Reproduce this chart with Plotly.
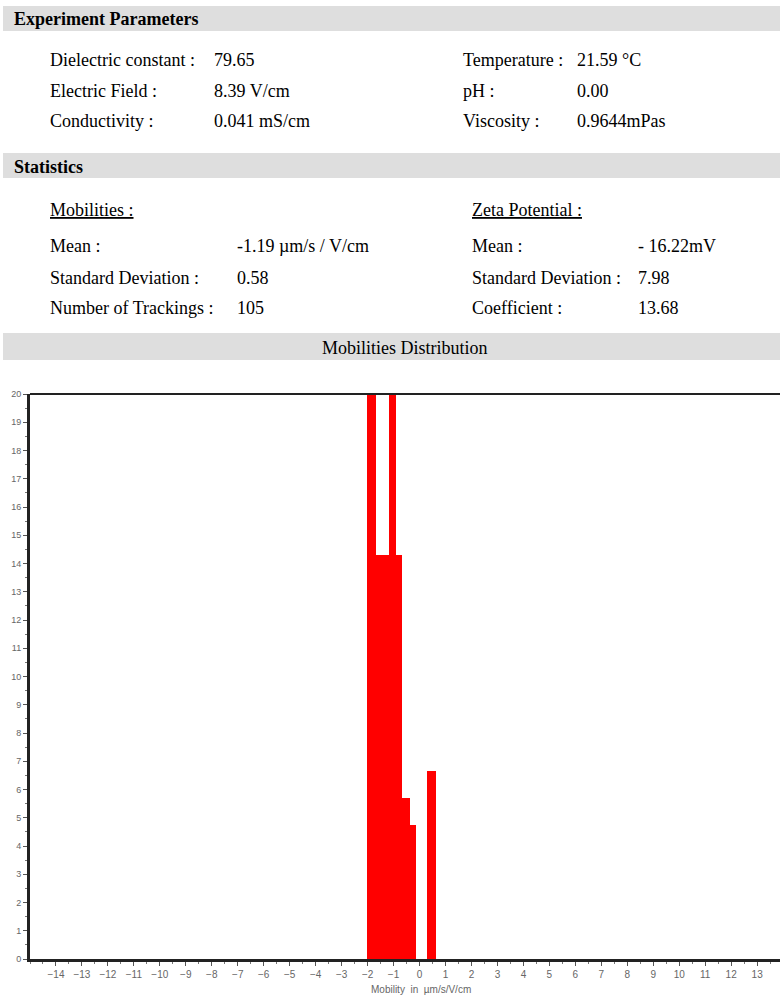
import plotly.graph_objects as go

# ---- data ----
bin_left = [-2.01, -1.67, -1.18, -0.90, -0.67, -0.38, 0.27]
bin_right = [-1.67, -1.18, -0.90, -0.67, -0.38, -0.15, 0.65]
percent = [27.62, 14.29, 26.67, 14.29, 5.71, 4.76, 6.67]
x_ticks = list(range(-14, 14))

exp_labels_left = ["Dielectric constant :", "Electric Field :", "Conductivity :"]
exp_values_left = ["79.65", "8.39 V/cm", "0.041 mS/cm"]
exp_labels_right = ["Temperature :", "pH :", "Viscosity :"]
exp_values_right = ["21.59 °C", "0.00", "0.9644mPas"]

mob_labels = ["Mean :", "Standard Deviation :", "Number of Trackings :"]
mob_values = ["-1.19 µm/s / V/cm", "0.58", "105"]
zeta_labels = ["Mean :", "Standard Deviation :", "Coefficient :"]
zeta_values = ["- 16.22mV", "7.98", "13.68"]

# ---- geometry helpers (pixel -> paper) ----
W, H = 780, 998
PL, PT, PB = 30, 394, 39
PW, PH = W - PL, H - PT - PB


def px(x):
    return (x - PL) / PW


def py(y):
    return (PT + PH - y) / PH


centers = [(a + b) / 2 for a, b in zip(bin_left, bin_right)]
widths = [b - a for a, b in zip(bin_left, bin_right)]

fig = go.Figure(go.Bar(
    x=centers, y=percent, width=widths,
    marker=dict(color="#ff0000", line=dict(width=0)),
    hoverinfo="skip",
))

SERIF = "Liberation Serif"
FS = 18
shapes = []
annotations = []

# gray section bands
for y0, y1 in [(6, 31), (153, 178), (333, 360)]:
    shapes.append(dict(type="rect", xref="paper", yref="paper",
                       x0=px(3), x1=px(780), y0=py(y1), y1=py(y0),
                       fillcolor="#dedede", line=dict(width=0), layer="below"))

# top border of the plot
shapes.append(dict(type="line", xref="paper", yref="paper", x0=0, x1=1, y0=1, y1=1,
                   line=dict(color="#222222", width=2)))


def txt(x, y, s, size=FS, anchor="left", bold=False, color="black", family=SERIF):
    annotations.append(dict(
        xref="paper", yref="paper", x=px(x), y=py(y),
        text=("<b>%s</b>" % s) if bold else s,
        showarrow=False, xanchor=anchor, yanchor="middle",
        font=dict(family=family, size=size, color=color),
    ))


txt(12, 19, "Experiment Parameters", bold=True)
rows_exp = [60, 91, 121]
for i, y in enumerate(rows_exp):
    txt(48, y, exp_labels_left[i])
    txt(212, y, exp_values_left[i])
    txt(461, y, exp_labels_right[i])
    txt(575, y, exp_values_right[i])

txt(12, 167, "Statistics", bold=True)
txt(48, 210, "<u>Mobilities :</u>")
txt(470, 210, "<u>Zeta Potential :</u>")
rows_stat = [246, 278, 308]
for i, y in enumerate(rows_stat):
    txt(48, y, mob_labels[i])
    txt(235, y, mob_values[i])
    txt(470, y, zeta_labels[i])
    txt(636, y, zeta_values[i])

txt(405, 348, "Mobilities Distribution", anchor="center")

# x-axis title
txt(421, 989, "Mobility\u00a0\u00a0in\u00a0\u00a0µm/s/V/cm", size=10, anchor="center",
    color="#666666", family="Liberation Sans")

fig.update_layout(
    width=W, height=H,
    margin=dict(l=PL, r=0, t=PT, b=PB, pad=0),
    paper_bgcolor="white", plot_bgcolor="white",
    showlegend=False,
    bargap=0,
    shapes=shapes,
    annotations=annotations,
    xaxis=dict(
        range=[-15, 13.88], tickmode="array", tickvals=x_ticks,
        ticks="outside", ticklen=4, tickwidth=1, tickcolor="#555555",
        showline=True, linecolor="#222222", linewidth=3,
        showgrid=False, zeroline=False,
        tickfont=dict(family="Liberation Sans", size=10, color="#666666"),
        minor=dict(ticks="outside", ticklen=2, dtick=0.5, tick0=0, tickcolor="#777777"),
        fixedrange=True,
    ),
    yaxis=dict(
        range=[0, 20], dtick=1, tick0=0,
        ticks="outside", ticklen=4, tickwidth=1, tickcolor="#555555",
        showline=True, linecolor="#222222", linewidth=3,
        showgrid=False, zeroline=False,
        tickfont=dict(family="Liberation Sans", size=9, color="#666666"),
        minor=dict(ticks="outside", ticklen=2, dtick=0.5, tick0=0, tickcolor="#777777"),
        fixedrange=True,
    ),
)

fig.write_html("out.html", config={"displayModeBar": False},
               post_script="document.body.style.margin='0';document.body.style.overflow='hidden';")
